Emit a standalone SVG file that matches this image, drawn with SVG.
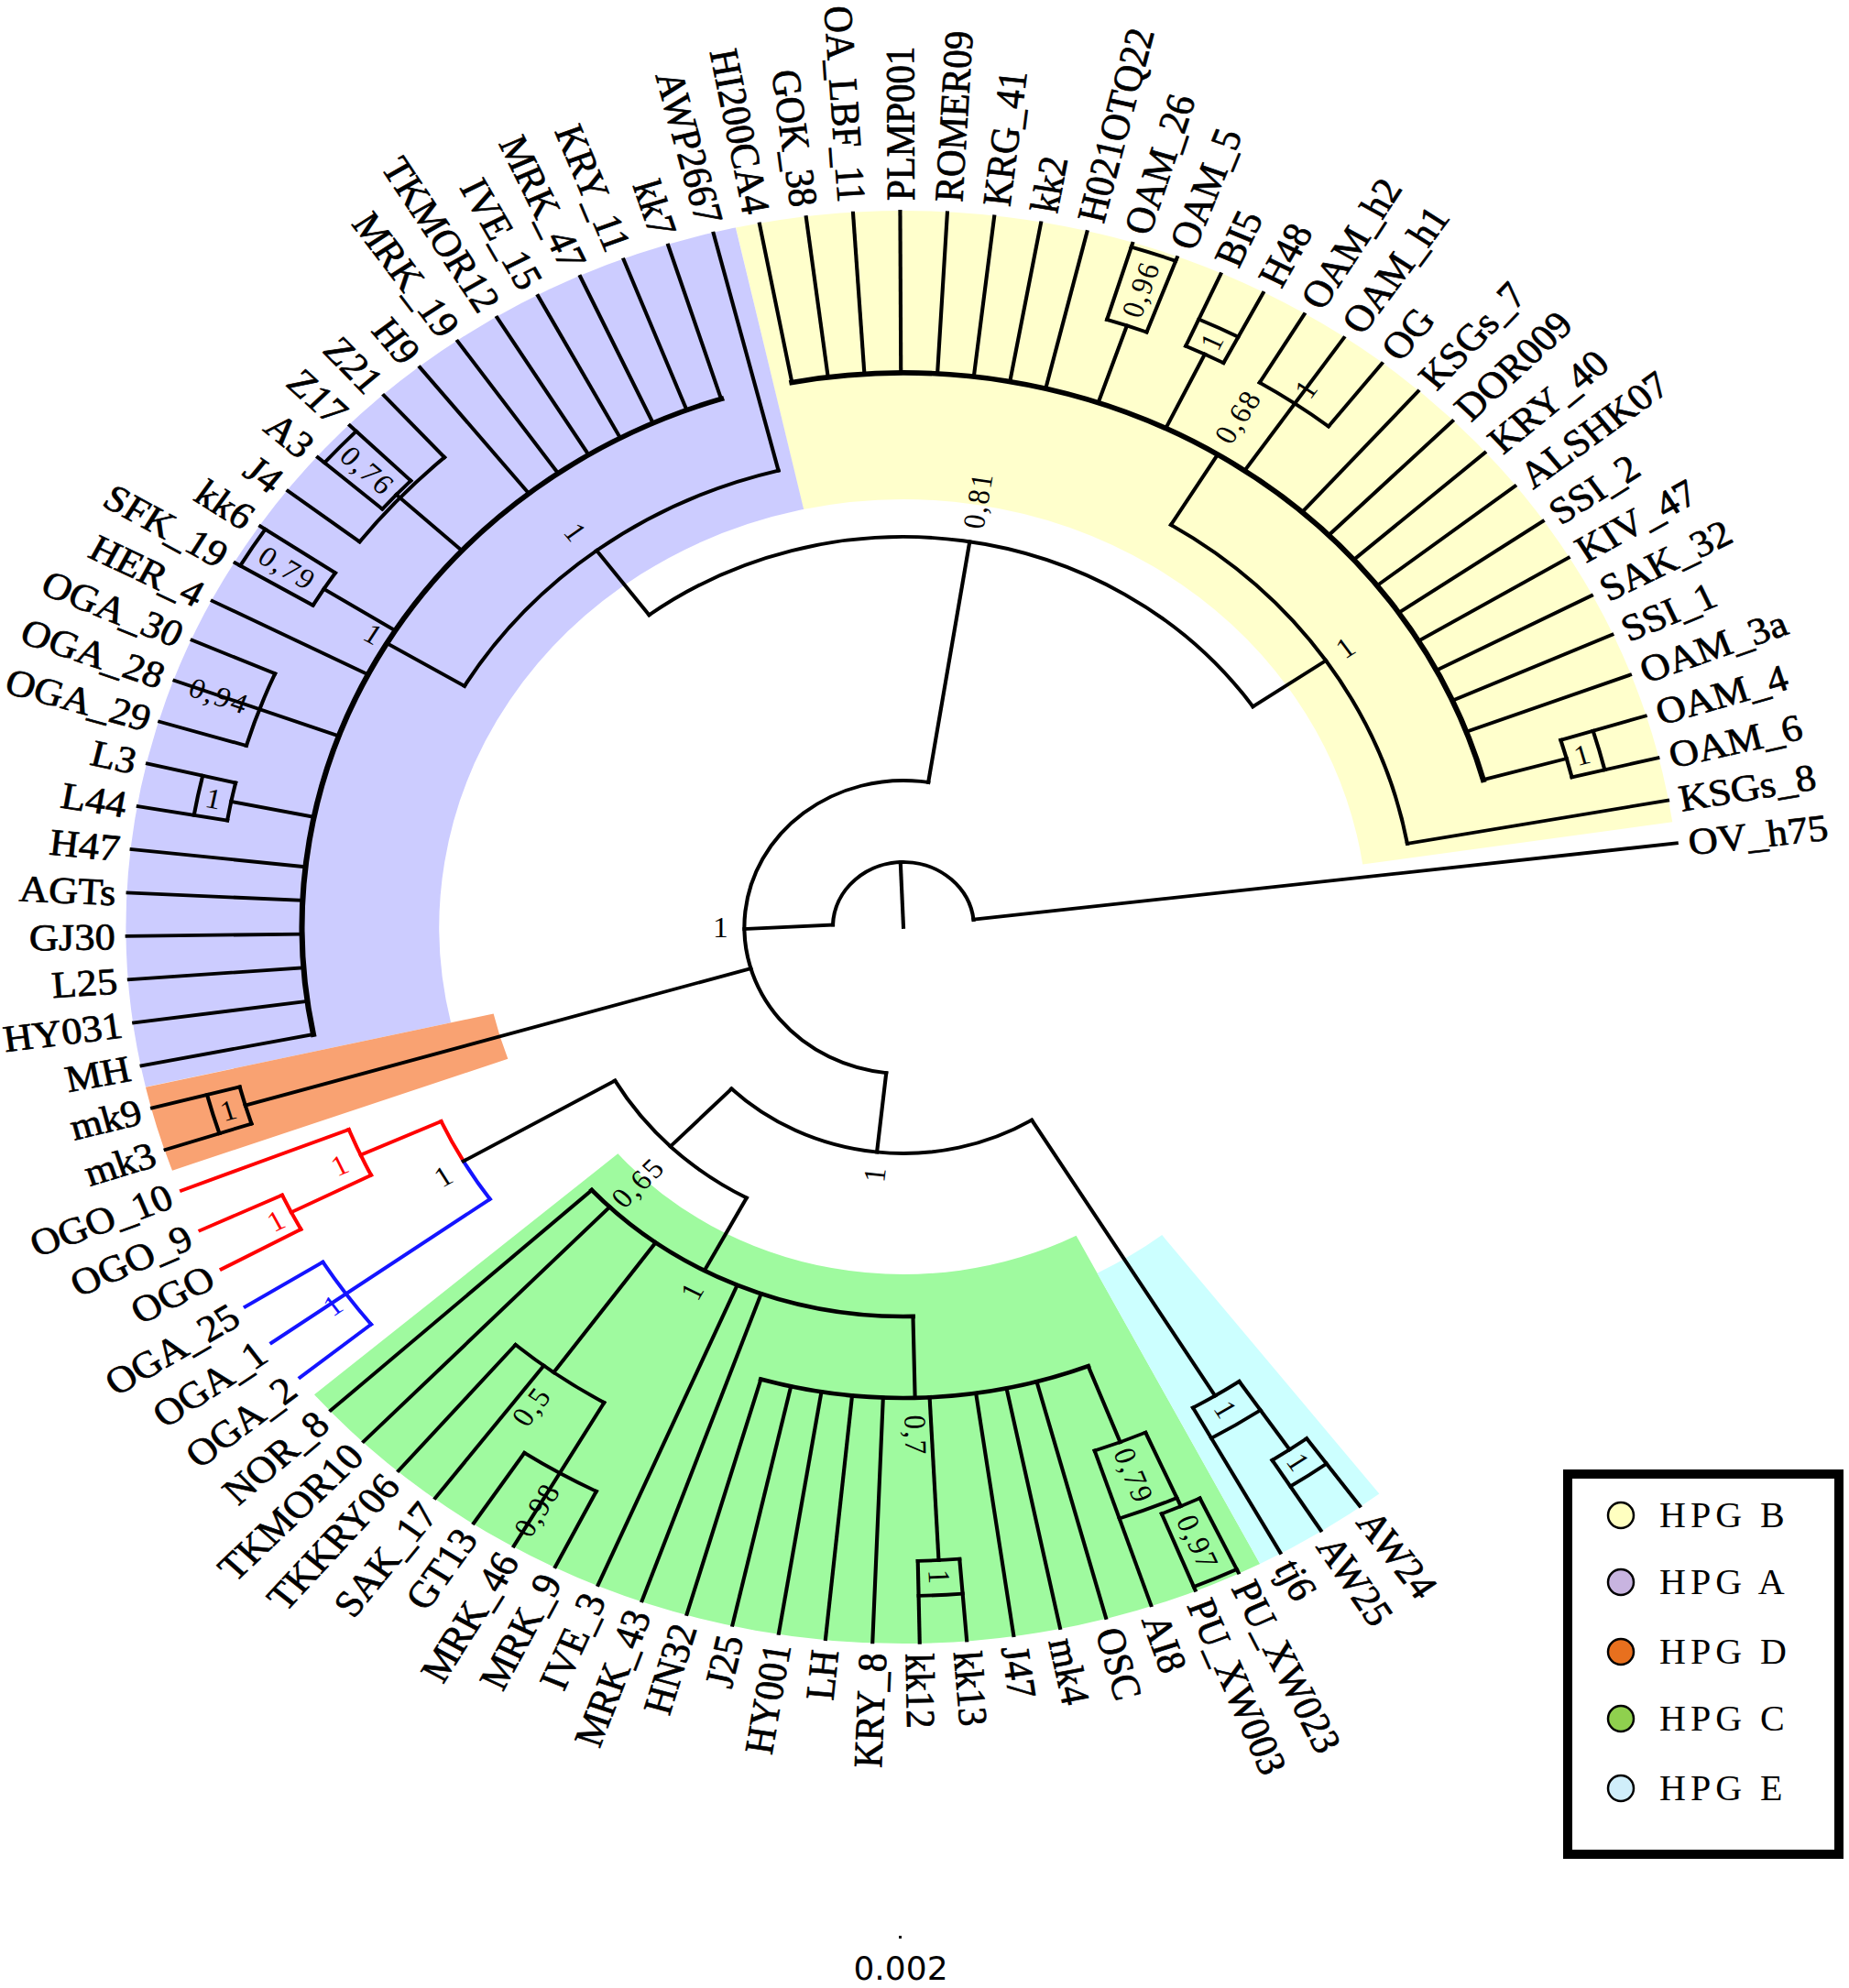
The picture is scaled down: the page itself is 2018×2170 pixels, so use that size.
<svg xmlns="http://www.w3.org/2000/svg" width="2018" height="2170" viewBox="0 0 2018 2170">
<style>
.c line,.c circle{fill:none;stroke:#000;stroke-width:3.8;stroke-linecap:square}
.c .tk{stroke-width:5.6}
.c .md{stroke-width:4.6}
.c .rd{stroke:#f00}
.c .bl{stroke:#1414ff}
.band{fill:none;stroke-linecap:butt}
.lf{font-family:"Liberation Serif","Times New Roman",serif;font-size:41px;fill:#000;stroke:#000;stroke-width:0.7}
.lf .e{text-anchor:end}
.bs{font-family:"Liberation Serif","Times New Roman",serif;font-size:31px;letter-spacing:2px;fill:#000;text-anchor:middle}
.lg{font-family:"Liberation Serif","Times New Roman",serif;font-size:40px;letter-spacing:5px;fill:#000}
</style>
<rect width="2018" height="2170" fill="#fff"/>
<g transform="translate(986,1012) scale(1.085,1)">
<g id="bands">
<circle class="band" r="624.5" stroke="#ffffcc" stroke-width="315" stroke-dasharray="1024.6 9000" transform="rotate(257.55)"/>
<circle class="band" r="624.5" stroke="#ccccff" stroke-width="315" stroke-dasharray="985.9 9000" transform="rotate(167.1)"/>
<circle class="band" r="602.5" stroke="#f9a272" stroke-width="359" stroke-dasharray="73.19 9000" transform="rotate(160.14)"/>
<circle class="band" r="580.5" stroke="#9ffa9f" stroke-width="403" stroke-dasharray="775.7 9000" transform="rotate(62.7)"/>
<circle class="band" r="603.5" stroke="#ccffff" stroke-width="357" stroke-dasharray="109.96 9000" transform="rotate(52.26)"/>
</g>
<g id="connectors" class="c">
<circle r="71" stroke-dasharray="212.25 5000" transform="rotate(182)"/>
<circle r="160" stroke-dasharray="510.47 5000" transform="rotate(96.2)"/>
<circle r="426" stroke-dasharray="687.75 5000" transform="rotate(233.1)"/>
<circle r="515" stroke-dasharray="434.14 5000" transform="rotate(301.5)"/>
<circle class="tk" r="605" stroke-dasharray="900.28 5000" transform="rotate(259.32)"/>
<circle r="514" stroke-dasharray="404.05 5000" transform="rotate(210.8)"/>
<circle class="tk" r="605" stroke-dasharray="881.91 5000" transform="rotate(168.84)"/>
<circle r="694" stroke-dasharray="42.15 5000" transform="rotate(287.16)"/>
<circle r="695" stroke-dasharray="42.21 5000" transform="rotate(294.12)"/>
<circle r="694" stroke-dasharray="84.3 5000" transform="rotate(301.08)"/>
<circle r="692" stroke-dasharray="42.03 5000" transform="rotate(342.84)"/>
<circle r="690" stroke-dasharray="41.91 5000" transform="rotate(189.72)"/>
<circle r="690" stroke-dasharray="83.82 5000" transform="rotate(196.68)"/>
<circle r="690" stroke-dasharray="41.91 5000" transform="rotate(210.6)"/>
<circle r="690" stroke-dasharray="125.73 5000" transform="rotate(217.56)"/>
<circle r="695" stroke-dasharray="42.21 5000" transform="rotate(221.04)"/>
<circle r="690" stroke-dasharray="41.91 5000" transform="rotate(161.88)"/>
<circle r="247" stroke-dasharray="327.2 5000" transform="rotate(58.5)"/>
<circle r="335" stroke-dasharray="186.51 5000" transform="rotate(118.1)"/>
<circle class="rd" r="511" stroke-dasharray="49.05 5000" transform="rotate(150)"/>
<circle class="bl" r="511" stroke-dasharray="49.23 5000" transform="rotate(144.48)"/>
<circle class="rd" r="600" stroke-dasharray="54.66 5000" transform="rotate(153.18)"/>
<circle class="rd" r="690" stroke-dasharray="41.91 5000" transform="rotate(151.44)"/>
<circle class="bl" r="689" stroke-dasharray="83.7 5000" transform="rotate(141)"/>
<circle class="md" r="425" stroke-dasharray="362.13 5000" transform="rotate(88.7)"/>
<circle r="600" stroke-dasharray="109.33 5000" transform="rotate(120.12)"/>
<circle r="689" stroke-dasharray="83.7 5000" transform="rotate(116.64)"/>
<circle class="md" r="514" stroke-dasharray="335.52 5000" transform="rotate(68.8)"/>
<circle r="692" stroke-dasharray="42.03 5000" transform="rotate(85.32)"/>
<circle r="603" stroke-dasharray="54.94 5000" transform="rotate(66.18)"/>
<circle r="691" stroke-dasharray="41.97 5000" transform="rotate(64.44)"/>
<circle r="600" stroke-dasharray="54.66 5000" transform="rotate(55.74)"/>
<circle r="690" stroke-dasharray="41.91 5000" transform="rotate(54)"/>
<circle r="777" stroke-dasharray="47.19 5000" transform="rotate(287.16)"/>
<circle r="727" stroke-dasharray="44.16 5000" transform="rotate(294.12)"/>
<circle r="726" stroke-dasharray="44.1 5000" transform="rotate(342.84)"/>
<circle r="724" stroke-dasharray="43.97 5000" transform="rotate(189.72)"/>
<circle r="775" stroke-dasharray="47.07 5000" transform="rotate(210.6)"/>
<circle r="772" stroke-dasharray="46.89 5000" transform="rotate(221.04)"/>
<circle r="724" stroke-dasharray="43.97 5000" transform="rotate(161.88)"/>
<circle r="730" stroke-dasharray="44.34 5000" transform="rotate(85.32)"/>
<circle r="681" stroke-dasharray="62.04 5000" transform="rotate(66.18)"/>
<circle r="777" stroke-dasharray="47.19 5000" transform="rotate(64.44)"/>
<circle r="638" stroke-dasharray="58.13 5000" transform="rotate(55.74)"/>
<circle r="724" stroke-dasharray="43.97 5000" transform="rotate(54)"/>
<line x1="-70.96" y1="-2.48" x2="-159.99" y2="1.95"/>
<line x1="0" x2="71" transform="rotate(267.6)"/>
<line x1="160" x2="426" transform="rotate(279)"/>
<line x1="160" x2="690" transform="rotate(163.62)"/>
<line x1="160" x2="247" transform="rotate(96.2)"/>
<line x1="426" x2="514" transform="rotate(233.1)"/>
<line x1="426" x2="515" transform="rotate(325.6)"/>
<line x1="515" x2="605" transform="rotate(301.5)"/>
<line x1="514" x2="605" transform="rotate(210.8)"/>
<line x1="605" x2="694" transform="rotate(288.9)"/>
<line x1="605" x2="695" transform="rotate(295.86)"/>
<line x1="605" x2="692" transform="rotate(344.58)"/>
<line x1="605" x2="690" transform="rotate(191.46)"/>
<line x1="605" x2="690" transform="rotate(212.34)"/>
<line x1="605" x2="695" transform="rotate(222.78)"/>
<line x1="247" x2="335" transform="rotate(134.4)"/>
<line x1="247" x2="600" transform="rotate(58.5)"/>
<line x1="335" x2="511" transform="rotate(150)"/>
<line x1="335" x2="425" transform="rotate(118.1)"/>
<line class="rd" x1="511" x2="600" transform="rotate(155.5)"/>
<line class="rd" x1="600" x2="690" transform="rotate(153.18)"/>
<line x1="425" x2="600" transform="rotate(125.9)"/>
<line x1="425" x2="514" transform="rotate(88.7)"/>
<line x1="514" x2="692" transform="rotate(87.06)"/>
<line x1="514" x2="603" transform="rotate(68.8)"/>
<line x1="603" x2="691" transform="rotate(66.18)"/>
<line x1="600" x2="690" transform="rotate(55.74)"/>
<line x1="690" x2="781" transform="rotate(54)"/>
<line x1="690" x2="781" transform="rotate(57.48)"/>
<line x1="600" x2="781" transform="rotate(60.96)"/>
<line x1="691" x2="781" transform="rotate(64.44)"/>
<line x1="691" x2="781" transform="rotate(67.92)"/>
<line x1="603" x2="781" transform="rotate(71.4)"/>
<line x1="514" x2="781" transform="rotate(74.88)"/>
<line x1="514" x2="781" transform="rotate(78.36)"/>
<line x1="514" x2="781" transform="rotate(81.84)"/>
<line x1="692" x2="781" transform="rotate(85.32)"/>
<line x1="692" x2="781" transform="rotate(88.8)"/>
<line x1="514" x2="781" transform="rotate(92.28)"/>
<line x1="514" x2="781" transform="rotate(95.76)"/>
<line x1="514" x2="781" transform="rotate(99.24)"/>
<line x1="514" x2="781" transform="rotate(102.72)"/>
<line x1="514" x2="781" transform="rotate(106.2)"/>
<line x1="425" x2="781" transform="rotate(109.68)"/>
<line x1="425" x2="781" transform="rotate(113.16)"/>
<line x1="689" x2="781" transform="rotate(116.64)"/>
<line x1="600" x2="781" transform="rotate(120.12)"/>
<line x1="689" x2="781" transform="rotate(123.6)"/>
<line x1="600" x2="781" transform="rotate(127.08)"/>
<line x1="600" x2="781" transform="rotate(130.56)"/>
<line x1="425" x2="781" transform="rotate(134.04)"/>
<line x1="425" x2="781" transform="rotate(137.52)"/>
<line class="bl" x1="689" x2="781" transform="rotate(141)"/>
<line class="bl" x1="511" x2="781" transform="rotate(144.48)"/>
<line class="bl" x1="689" x2="781" transform="rotate(147.96)"/>
<line class="rd" x1="690" x2="781" transform="rotate(151.44)"/>
<line class="rd" x1="690" x2="781" transform="rotate(154.92)"/>
<line class="rd" x1="600" x2="781" transform="rotate(158.4)"/>
<line x1="690" x2="781" transform="rotate(161.88)"/>
<line x1="690" x2="781" transform="rotate(165.36)"/>
<line x1="605" x2="781" transform="rotate(168.84)"/>
<line x1="605" x2="781" transform="rotate(172.32)"/>
<line x1="605" x2="781" transform="rotate(175.8)"/>
<line x1="605" x2="781" transform="rotate(179.28)"/>
<line x1="605" x2="781" transform="rotate(182.76)"/>
<line x1="605" x2="781" transform="rotate(186.24)"/>
<line x1="690" x2="781" transform="rotate(189.72)"/>
<line x1="690" x2="781" transform="rotate(193.2)"/>
<line x1="690" x2="781" transform="rotate(196.68)"/>
<line x1="605" x2="781" transform="rotate(200.16)"/>
<line x1="690" x2="781" transform="rotate(203.64)"/>
<line x1="605" x2="781" transform="rotate(207.12)"/>
<line x1="690" x2="781" transform="rotate(210.6)"/>
<line x1="690" x2="781" transform="rotate(214.08)"/>
<line x1="690" x2="781" transform="rotate(217.56)"/>
<line x1="695" x2="781" transform="rotate(221.04)"/>
<line x1="695" x2="781" transform="rotate(224.52)"/>
<line x1="690" x2="781" transform="rotate(228)"/>
<line x1="605" x2="781" transform="rotate(231.48)"/>
<line x1="605" x2="781" transform="rotate(234.96)"/>
<line x1="605" x2="781" transform="rotate(238.44)"/>
<line x1="605" x2="781" transform="rotate(241.92)"/>
<line x1="605" x2="781" transform="rotate(245.4)"/>
<line x1="605" x2="781" transform="rotate(248.88)"/>
<line x1="605" x2="781" transform="rotate(252.36)"/>
<line x1="514" x2="781" transform="rotate(255.84)"/>
<line x1="605" x2="781" transform="rotate(259.32)"/>
<line x1="605" x2="781" transform="rotate(262.8)"/>
<line x1="605" x2="781" transform="rotate(266.28)"/>
<line x1="605" x2="781" transform="rotate(269.76)"/>
<line x1="605" x2="781" transform="rotate(273.24)"/>
<line x1="605" x2="781" transform="rotate(276.72)"/>
<line x1="605" x2="781" transform="rotate(280.2)"/>
<line x1="605" x2="781" transform="rotate(283.68)"/>
<line x1="694" x2="781" transform="rotate(287.16)"/>
<line x1="694" x2="781" transform="rotate(290.64)"/>
<line x1="695" x2="781" transform="rotate(294.12)"/>
<line x1="695" x2="781" transform="rotate(297.6)"/>
<line x1="694" x2="781" transform="rotate(301.08)"/>
<line x1="605" x2="781" transform="rotate(304.56)"/>
<line x1="694" x2="781" transform="rotate(308.04)"/>
<line x1="605" x2="781" transform="rotate(311.52)"/>
<line x1="605" x2="781" transform="rotate(315)"/>
<line x1="605" x2="781" transform="rotate(318.48)"/>
<line x1="605" x2="781" transform="rotate(321.96)"/>
<line x1="605" x2="781" transform="rotate(325.44)"/>
<line x1="605" x2="781" transform="rotate(328.92)"/>
<line x1="605" x2="781" transform="rotate(332.4)"/>
<line x1="605" x2="781" transform="rotate(335.88)"/>
<line x1="605" x2="781" transform="rotate(339.36)"/>
<line x1="692" x2="781" transform="rotate(342.84)"/>
<line x1="692" x2="781" transform="rotate(346.32)"/>
<line x1="515" x2="781" transform="rotate(349.8)"/>
<line x1="71" x2="783" transform="rotate(353.28)"/>
</g>
<g id="support" class="bs">
<text transform="rotate(0)" x="-183" dy="0.35em">1</text>
<text transform="rotate(279.1)" x="472" dy="0.35em">0,81</text>
<text transform="rotate(325.5)" x="540" dy="0.35em">1</text>
<text transform="rotate(301.1)" x="651" dy="0.35em">0,68</text>
<text transform="rotate(304.56)" x="714" dy="0.35em">1</text>
<text transform="rotate(288.9)" x="736" dy="0.35em">0,96</text>
<text transform="rotate(295.86)" x="711" dy="0.35em">1</text>
<text transform="rotate(344.58)" x="709" dy="0.35em">1</text>
<text transform="rotate(52.6)" x="-542" dy="0.35em">1</text>
<text transform="rotate(31)" x="-621" dy="0.35em">1</text>
<text transform="rotate(11.46)" x="-707" dy="0.35em">1</text>
<text transform="rotate(20.16)" x="-733" dy="0.35em">0,94</text>
<text transform="rotate(32.34)" x="-733" dy="0.35em">0,79</text>
<text transform="rotate(42.78)" x="-734" dy="0.35em">0,76</text>
<text transform="rotate(-16.38)" x="-707" dy="0.35em">1</text>
<text transform="rotate(-83.8)" x="-271" dy="0.35em">1</text>
<text transform="rotate(-46.2)" x="-386" dy="0.35em">0,65</text>
<text transform="rotate(-30.4)" x="-536" dy="0.35em">1</text>
<text transform="rotate(-24.6)" x="-623" dy="0.35em" fill="#f00">1</text>
<text transform="rotate(-26.9)" x="-707" dy="0.35em" fill="#f00">1</text>
<text transform="rotate(-35.7)" x="-706" dy="0.35em" fill="#1414ff">1</text>
<text transform="rotate(-61.8)" x="-450" dy="0.35em">1</text>
<text transform="rotate(-54.4)" x="-643" dy="0.35em">0,5</text>
<text transform="rotate(-59.88)" x="-735" dy="0.35em">0,98</text>
<text transform="rotate(88.7)" x="555" dy="0.35em">0,7</text>
<text transform="rotate(87.06)" x="711" dy="0.35em">1</text>
<text transform="rotate(68.8)" x="642" dy="0.35em">0,79</text>
<text transform="rotate(66.18)" x="734" dy="0.35em">0,97</text>
<text transform="rotate(58.35)" x="619" dy="0.35em">1</text>
<text transform="rotate(55.74)" x="707" dy="0.35em">1</text>
</g>
<g class="lf">
<g id="leaf-AW24"><text transform="rotate(54)" x="793" dy="0.35em">AW24</text></g>
<g id="leaf-AW25"><text transform="rotate(57.48)" x="793" dy="0.35em">AW25</text></g>
<g id="leaf-tj6"><text transform="rotate(60.96)" x="793" dy="0.35em">tj6</text></g>
<g id="leaf-PU_XW023"><text transform="rotate(64.44)" x="793" dy="0.35em">PU_XW023</text></g>
<g id="leaf-PU_XW003"><text transform="rotate(67.92)" x="793" dy="0.35em">PU_XW003</text></g>
<g id="leaf-AI8"><text transform="rotate(71.4)" x="793" dy="0.35em">AI8</text></g>
<g id="leaf-OSC"><text transform="rotate(74.88)" x="793" dy="0.35em">OSC</text></g>
<g id="leaf-mk4"><text transform="rotate(78.36)" x="793" dy="0.35em">mk4</text></g>
<g id="leaf-J47"><text transform="rotate(81.84)" x="793" dy="0.35em">J47</text></g>
<g id="leaf-kk13"><text transform="rotate(85.32)" x="793" dy="0.35em">kk13</text></g>
<g id="leaf-kk12"><text transform="rotate(88.8)" x="793" dy="0.35em">kk12</text></g>
<g id="leaf-KRY_8"><text class="e" transform="rotate(-87.72)" x="-793" dy="0.35em">KRY_8</text></g>
<g id="leaf-LH"><text class="e" transform="rotate(-84.24)" x="-793" dy="0.35em">LH</text></g>
<g id="leaf-HY001"><text class="e" transform="rotate(-80.76)" x="-793" dy="0.35em">HY001</text></g>
<g id="leaf-J25"><text class="e" transform="rotate(-77.28)" x="-793" dy="0.35em">J25</text></g>
<g id="leaf-HN32"><text class="e" transform="rotate(-73.8)" x="-793" dy="0.35em">HN32</text></g>
<g id="leaf-MRK_43"><text class="e" transform="rotate(-70.32)" x="-793" dy="0.35em">MRK_43</text></g>
<g id="leaf-IVE_3"><text class="e" transform="rotate(-66.84)" x="-793" dy="0.35em">IVE_3</text></g>
<g id="leaf-MRK_9"><text class="e" transform="rotate(-63.36)" x="-793" dy="0.35em">MRK_9</text></g>
<g id="leaf-MRK_46"><text class="e" transform="rotate(-59.88)" x="-793" dy="0.35em">MRK_46</text></g>
<g id="leaf-GT13"><text class="e" transform="rotate(-56.4)" x="-793" dy="0.35em">GT13</text></g>
<g id="leaf-SAK_17"><text class="e" transform="rotate(-52.92)" x="-793" dy="0.35em">SAK_17</text></g>
<g id="leaf-TKKRY06"><text class="e" transform="rotate(-49.44)" x="-793" dy="0.35em">TKKRY06</text></g>
<g id="leaf-TKMOR10"><text class="e" transform="rotate(-45.96)" x="-793" dy="0.35em">TKMOR10</text></g>
<g id="leaf-NOR_8"><text class="e" transform="rotate(-42.48)" x="-793" dy="0.35em">NOR_8</text></g>
<g id="leaf-OGA_2"><text class="e" transform="rotate(-39)" x="-793" dy="0.35em">OGA_2</text></g>
<g id="leaf-OGA_1"><text class="e" transform="rotate(-35.52)" x="-793" dy="0.35em">OGA_1</text></g>
<g id="leaf-OGA_25"><text class="e" transform="rotate(-32.04)" x="-793" dy="0.35em">OGA_25</text></g>
<g id="leaf-OGO"><text class="e" transform="rotate(-28.56)" x="-793" dy="0.35em">OGO</text></g>
<g id="leaf-OGO_9"><text class="e" transform="rotate(-25.08)" x="-793" dy="0.35em">OGO_9</text></g>
<g id="leaf-OGO_10"><text class="e" transform="rotate(-21.6)" x="-793" dy="0.35em">OGO_10</text></g>
<g id="leaf-mk3"><text class="e" transform="rotate(-18.12)" x="-793" dy="0.35em">mk3</text></g>
<g id="leaf-mk9"><text class="e" transform="rotate(-14.64)" x="-793" dy="0.35em">mk9</text></g>
<g id="leaf-MH"><text class="e" transform="rotate(-11.16)" x="-793" dy="0.35em">MH</text></g>
<g id="leaf-HY031"><text class="e" transform="rotate(-7.68)" x="-793" dy="0.35em">HY031</text></g>
<g id="leaf-L25"><text class="e" transform="rotate(-4.2)" x="-793" dy="0.35em">L25</text></g>
<g id="leaf-GJ30"><text class="e" transform="rotate(-0.72)" x="-793" dy="0.35em">GJ30</text></g>
<g id="leaf-AGTs"><text class="e" transform="rotate(2.76)" x="-793" dy="0.35em">AGTs</text></g>
<g id="leaf-H47"><text class="e" transform="rotate(6.24)" x="-793" dy="0.35em">H47</text></g>
<g id="leaf-L44"><text class="e" transform="rotate(9.72)" x="-793" dy="0.35em">L44</text></g>
<g id="leaf-L3"><text class="e" transform="rotate(13.2)" x="-793" dy="0.35em">L3</text></g>
<g id="leaf-OGA_29"><text class="e" transform="rotate(16.68)" x="-791" dy="0.35em">OGA_29</text></g>
<g id="leaf-OGA_28"><text class="e" transform="rotate(20.16)" x="-793" dy="0.35em">OGA_28</text></g>
<g id="leaf-OGA_30"><text class="e" transform="rotate(23.64)" x="-793" dy="0.35em">OGA_30</text></g>
<g id="leaf-HER_4"><text class="e" transform="rotate(27.12)" x="-793" dy="0.35em">HER_4</text></g>
<g id="leaf-SFK_19"><text class="e" transform="rotate(30.6)" x="-793" dy="0.35em">SFK_19</text></g>
<g id="leaf-kk6"><text class="e" transform="rotate(34.08)" x="-793" dy="0.35em">kk6</text></g>
<g id="leaf-J4"><text class="e" transform="rotate(37.56)" x="-793" dy="0.35em">J4</text></g>
<g id="leaf-A3"><text class="e" transform="rotate(41.04)" x="-793" dy="0.35em">A3</text></g>
<g id="leaf-Z17"><text class="e" transform="rotate(44.52)" x="-793" dy="0.35em">Z17</text></g>
<g id="leaf-Z21"><text class="e" transform="rotate(48)" x="-793" dy="0.35em">Z21</text></g>
<g id="leaf-H9"><text class="e" transform="rotate(51.48)" x="-793" dy="0.35em">H9</text></g>
<g id="leaf-MRK_19"><text class="e" transform="rotate(54.96)" x="-793" dy="0.35em">MRK_19</text></g>
<g id="leaf-TKMOR12"><text class="e" transform="rotate(58.44)" x="-793" dy="0.35em">TKMOR12</text></g>
<g id="leaf-IVE_15"><text class="e" transform="rotate(61.92)" x="-793" dy="0.35em">IVE_15</text></g>
<g id="leaf-MRK_47"><text class="e" transform="rotate(65.4)" x="-793" dy="0.35em">MRK_47</text></g>
<g id="leaf-KRY_11"><text class="e" transform="rotate(68.88)" x="-793" dy="0.35em">KRY_11</text></g>
<g id="leaf-kk7"><text class="e" transform="rotate(72.36)" x="-793" dy="0.35em">kk7</text></g>
<g id="leaf-AWP2667"><text class="e" transform="rotate(75.84)" x="-793" dy="0.35em">AWP2667</text></g>
<g id="leaf-HI200CA4"><text class="e" transform="rotate(79.32)" x="-793" dy="0.35em">HI200CA4</text></g>
<g id="leaf-GOK_38"><text class="e" transform="rotate(82.8)" x="-793" dy="0.35em">GOK_38</text></g>
<g id="leaf-OA_LBF_11"><text class="e" transform="rotate(86.28)" x="-793" dy="0.35em">OA_LBF_11</text></g>
<g id="leaf-PLMP001"><text transform="rotate(269.76)" x="793" dy="0.35em">PLMP001</text></g>
<g id="leaf-ROMER09"><text transform="rotate(273.24)" x="793" dy="0.35em">ROMER09</text></g>
<g id="leaf-KRG_41"><text transform="rotate(276.72)" x="793" dy="0.35em">KRG_41</text></g>
<g id="leaf-kk2"><text transform="rotate(280.2)" x="793" dy="0.35em">kk2</text></g>
<g id="leaf-H021OTQ22"><text transform="rotate(283.68)" x="793" dy="0.35em">H021OTQ22</text></g>
<g id="leaf-OAM_26"><text transform="rotate(287.16)" x="793" dy="0.35em">OAM_26</text></g>
<g id="leaf-OAM_5"><text transform="rotate(290.64)" x="793" dy="0.35em">OAM_5</text></g>
<g id="leaf-BI5"><text transform="rotate(294.12)" x="793" dy="0.35em">BI5</text></g>
<g id="leaf-H48"><text transform="rotate(297.6)" x="793" dy="0.35em">H48</text></g>
<g id="leaf-OAM_h2"><text transform="rotate(301.08)" x="793" dy="0.35em">OAM_h2</text></g>
<g id="leaf-OAM_h1"><text transform="rotate(304.56)" x="793" dy="0.35em">OAM_h1</text></g>
<g id="leaf-OG"><text transform="rotate(308.04)" x="793" dy="0.35em">OG</text></g>
<g id="leaf-KSGs_7"><text transform="rotate(311.52)" x="793" dy="0.35em">KSGs_7</text></g>
<g id="leaf-DOR009"><text transform="rotate(315)" x="793" dy="0.35em">DOR009</text></g>
<g id="leaf-KRY_40"><text transform="rotate(318.48)" x="793" dy="0.35em">KRY_40</text></g>
<g id="leaf-ALSHK07"><text transform="rotate(321.96)" x="793" dy="0.35em">ALSHK07</text></g>
<g id="leaf-SSI_2"><text transform="rotate(325.44)" x="793" dy="0.35em">SSI_2</text></g>
<g id="leaf-KIV_47"><text transform="rotate(328.92)" x="793" dy="0.35em">KIV_47</text></g>
<g id="leaf-SAK_32"><text transform="rotate(332.4)" x="793" dy="0.35em">SAK_32</text></g>
<g id="leaf-SSI_1"><text transform="rotate(335.88)" x="793" dy="0.35em">SSI_1</text></g>
<g id="leaf-OAM_3a"><text transform="rotate(339.36)" x="793" dy="0.35em">OAM_3a</text></g>
<g id="leaf-OAM_4"><text transform="rotate(342.84)" x="793" dy="0.35em">OAM_4</text></g>
<g id="leaf-OAM_6"><text transform="rotate(346.32)" x="793" dy="0.35em">OAM_6</text></g>
<g id="leaf-KSGs_8"><text transform="rotate(349.8)" x="793" dy="0.35em">KSGs_8</text></g>
<g id="leaf-OV_h75"><text transform="rotate(353.28)" x="795" dy="0.35em">OV_h75</text></g>
</g>
</g>
<g id="legend">
<rect x="1711" y="1609" width="296" height="415" fill="#fff" stroke="#000" stroke-width="10"/>
<circle cx="1769" cy="1654" r="14" fill="#ffffc0" stroke="#000" stroke-width="2.5"/>
<circle cx="1769" cy="1727" r="14" fill="#c8b4e0" stroke="#000" stroke-width="2.5"/>
<circle cx="1769" cy="1803" r="14" fill="#e8701e" stroke="#000" stroke-width="2.5"/>
<circle cx="1769" cy="1876" r="14" fill="#8fd04e" stroke="#000" stroke-width="2.5"/>
<circle cx="1769" cy="1952" r="14" fill="#d0eefa" stroke="#000" stroke-width="2.5"/>
<text class="lg" x="1811" y="1667">HPG B</text>
<text class="lg" x="1811" y="1740">HPG A</text>
<text class="lg" x="1811" y="1816">HPG D</text>
<text class="lg" x="1811" y="1889">HPG C</text>
<text class="lg" x="1811" y="1965">HPG E</text>
</g>
<g id="scale">
<rect x="981" y="2113" width="3" height="3" fill="#000"/>
<text x="983" y="2161" text-anchor="middle" font-family="DejaVu Sans, sans-serif" font-size="36">0.002</text>
</g>
</svg>
